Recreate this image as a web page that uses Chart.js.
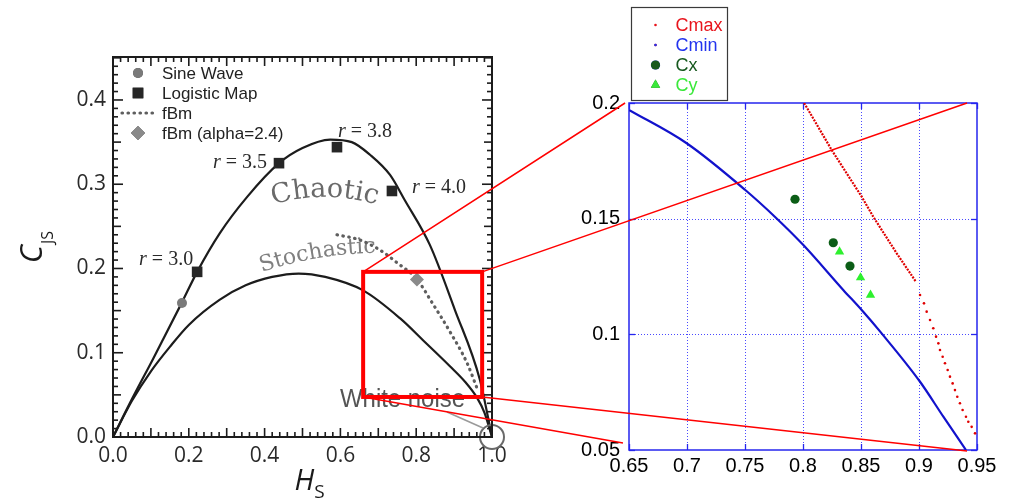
<!DOCTYPE html>
<html>
<head>
<meta charset="utf-8">
<script src="https://cdn.jsdelivr.net/npm/chart.js@4.4.1/dist/chart.umd.min.js"></script>
<style>
  html, body { margin: 0; padding: 0; background: #fff; }
  #wrap { position: relative; width: 1021px; height: 502px; overflow: hidden; background: #fff; }
  #left  { position: absolute; left: 0; top: 0; }
  #right { position: absolute; left: 515px; top: 0; }
  #links { position: absolute; left: 0; top: 0; pointer-events: none; }
</style>
</head>
<body>
<div id="wrap">
  <canvas id="left" width="515" height="502"></canvas>
  <canvas id="right" width="506" height="502"></canvas>
  <canvas id="links" width="1021" height="502"></canvas>
</div>
<script>
// ---------- complexity–entropy plane (H_S, C_JS) ----------
const upperHs  = [0, 0.05, 0.106, 0.18, 0.222, 0.282, 0.354, 0.438, 0.5, 0.573, 0.63, 0.678, 0.731, 0.77, 0.836, 0.902, 0.968, 1.0];
const upperCjs = [0, 0.045, 0.093, 0.158, 0.196, 0.242, 0.285, 0.325, 0.343, 0.353, 0.350, 0.335, 0.311, 0.281, 0.228, 0.151, 0.068, 0];

const lowerHs  = [0, 0.05, 0.1, 0.15, 0.2, 0.282, 0.35, 0.42, 0.49, 0.56, 0.66, 0.757, 0.82, 0.889, 0.93, 0.96, 0.98, 1.0];
const lowerCjs = [0, 0.043, 0.078, 0.107, 0.133, 0.163, 0.18, 0.19, 0.194, 0.19, 0.174, 0.141, 0.114, 0.084, 0.065, 0.047, 0.029, 0];

const fbmHs  = [0.591, 0.65, 0.704, 0.749, 0.802, 0.844, 0.889, 0.934, 0.963];
const fbmCjs = [0.240, 0.234, 0.222, 0.207, 0.187, 0.158, 0.125, 0.088, 0.055];

const sineHs  = [0.182];
const sineCjs = [0.159];

const logisticHs  = [0.222, 0.438, 0.591, 0.736];
const logisticCjs = [0.196, 0.325, 0.344, 0.292];
const logisticR   = ['3.0', '3.5', '3.8', '4.0'];

const fbmAlphaHs  = [0.802];
const fbmAlphaCjs = [0.187];

const noiseHs  = [1.0];
const noiseCjs = [0.0];

// window that is magnified on the right (H_S range, C_JS range)
const zoomHs  = [0.66, 0.974];
const zoomCjs = [0.0475, 0.196];

// ---------- magnified window ----------
const cmaxLineX = [0.801, 0.8247, 0.8506, 0.8606, 0.8808, 0.8974];
const cmaxLineY = [0.2000, 0.1797, 0.1595, 0.1508, 0.1350, 0.1227];
const cmaxDotX = [0.9009, 0.9043, 0.9066, 0.9095, 0.9123, 0.9147, 0.9167, 0.9181, 0.9204, 0.9224, 0.9247,
                  0.9267, 0.929, 0.931, 0.933, 0.9353, 0.9376, 0.9405, 0.9425, 0.9454, 0.9483];
const cmaxDotY = [0.117, 0.1134, 0.1098, 0.1062, 0.1026, 0.099, 0.0961, 0.0932, 0.0903, 0.0875, 0.0846,
                  0.0817, 0.0788, 0.0759, 0.073, 0.0702, 0.0673, 0.0644, 0.0622, 0.060, 0.0572];

const cminX = [0.65, 0.6997, 0.75, 0.7773, 0.8003, 0.8347, 0.8506, 0.8678, 0.9009, 0.921, 0.9405];
const cminY = [0.197, 0.1826, 0.1625, 0.1501, 0.1386, 0.1192, 0.1105, 0.1004, 0.0795, 0.0644, 0.050];

const cxX = [0.7931, 0.8261, 0.8405];
const cxY = [0.1584, 0.1396, 0.1295];

const cyX = [0.8315, 0.8496, 0.8582];
const cyY = [0.1357, 0.1245, 0.117];

// where the four corner guides land in the magnified panel (tl, tr, bl, br)
const linkEndX = [0.6466, 0.9414, 0.6448, 0.9414];
const linkEndY = [0.200, 0.200, 0.053, 0.0496];

const pts = (xs, ys) => xs.map((x, i) => ({ x, y: ys[i] }));

const INK = '#1c1c1c';
const SANS = '"Open Sans", "DejaVu Sans", sans-serif';
const LSANS = '"Liberation Sans", Arial, sans-serif';
const SERIF = '"DejaVu Serif", "Liberation Serif", serif';

function arcText(ctx, text, mx, my, R, mid) {
  // lay characters along a circle whose top passes through (mx, my)
  const cx = mx - R * Math.sin(mid), cy = my + R * Math.cos(mid);
  const total = ctx.measureText(text).width;
  let acc = -total / 2;
  ctx.textAlign = 'center';
  ctx.textBaseline = 'alphabetic';
  for (const ch of text) {
    const w = ctx.measureText(ch).width;
    const a = mid + (acc + w / 2) / R;
    ctx.save();
    ctx.translate(cx + R * Math.sin(a), cy - R * Math.cos(a));
    ctx.rotate(a);
    ctx.fillText(ch, 0, 0);
    ctx.restore();
    acc += w;
  }
}

// short solid tick marks pointing into the plot from every side
function innerTicks(ctx, a, xs, ys, color, w) {
  ctx.fillStyle = color;
  xs.forEach(([px, len]) => {
    ctx.fillRect(px - w / 2, a.bottom - len, w, len);
    ctx.fillRect(px - w / 2, a.top, w, len);
  });
  ys.forEach(([py, len]) => {
    ctx.fillRect(a.left, py - w / 2, len, w);
    ctx.fillRect(a.right - len, py - w / 2, len, w);
  });
}

// ---------- left panel decorations ----------
const leftDecor = {
  id: 'leftDecor',
  beforeDatasetsDraw(chart) {
    const { ctx, scales: { x, y } } = chart;
    ctx.save();
    ctx.fillStyle = '#6a6a6a';
    ctx.font = '27px ' + SERIF;
    arcText(ctx, 'Chaotic', x.getPixelForValue(0.559), y.getPixelForValue(0.285), 178, 0);
    ctx.fillStyle = '#808080';
    ctx.font = '22px ' + SERIF;
    arcText(ctx, 'Stochastic', x.getPixelForValue(0.541), y.getPixelForValue(0.2125), 370, -0.167);
    ctx.restore();
  },
  afterDatasetsDraw(chart) {
    const { ctx, chartArea: a, scales: { x, y } } = chart;
    ctx.save();
    ctx.setLineDash([]);

    // frame with inward major/minor ticks
    ctx.strokeStyle = INK;
    ctx.lineWidth = 2;
    ctx.strokeRect(a.left, a.top, a.right - a.left, a.bottom - a.top);
    const xt = [], yt = [];
    for (let i = 0; i <= 50; i++) xt.push([x.getPixelForValue(i * 0.02), i % 5 === 0 ? 9 : 5]);
    for (let i = 0; i <= 45; i++) yt.push([y.getPixelForValue(i * 0.01), i % 10 === 0 ? 10 : (i % 5 === 0 ? 8 : 5)]);
    innerTicks(ctx, a, xt, yt, INK, 1.6);

    // r = ... labels beside the logistic-map points
    const offs = [[-4, -7, 'right'], [-12, 5, 'right'], [1, -10, 'left'], [20, 2, 'left']];
    ctx.fillStyle = '#2a2a2a';
    ctx.textBaseline = 'alphabetic';
    logisticHs.forEach((h, i) => {
      const px = x.getPixelForValue(h) + offs[i][0];
      const py = y.getPixelForValue(logisticCjs[i]) + offs[i][1];
      const head = 'r', tail = ' = ' + logisticR[i];
      ctx.font = 'italic 20px "Liberation Serif", serif';
      const wh = ctx.measureText(head).width;
      ctx.font = '20px "Liberation Serif", serif';
      const wt = ctx.measureText(tail).width;
      const x0 = offs[i][2] === 'right' ? px - wh - wt : px;
      ctx.textAlign = 'left';
      ctx.font = 'italic 20px "Liberation Serif", serif';
      ctx.fillText(head, x0, py);
      ctx.font = '20px "Liberation Serif", serif';
      ctx.fillText(tail, x0 + wh, py);
    });

    // white-noise annotation
    const nx = x.getPixelForValue(noiseHs[0]), ny = y.getPixelForValue(noiseCjs[0]);
    ctx.strokeStyle = '#9a9a9a';
    ctx.lineWidth = 1.5;
    ctx.beginPath();
    ctx.moveTo(nx - 45, ny - 25);
    ctx.lineTo(nx - 9, ny - 9);
    ctx.stroke();
    ctx.fillStyle = '#555';
    ctx.font = '26px ' + LSANS;
    ctx.textAlign = 'left';
    ctx.fillText('White noise', nx - 152, ny - 30, 125);

    // legend
    const lx = a.left + 25, tx = a.left + 49;
    const rows = [a.top + 16, a.top + 36, a.top + 56, a.top + 76];
    const H = Chart.helpers;
    H.drawPoint(ctx, { pointStyle: 'circle', radius: 5, rotation: 0, borderWidth: 0 }, lx, rows[0]);
    ctx.fillStyle = '#7a7a7a'; ctx.fill();
    ctx.fillStyle = '#262626';
    H.drawPoint(ctx, { pointStyle: 'rect', radius: 7.5, rotation: 0, borderWidth: 0 }, lx, rows[1]);
    ctx.fill();
    ctx.strokeStyle = '#5e5e5e'; ctx.lineWidth = 3.2; ctx.lineCap = 'round'; ctx.setLineDash([0.5, 5.5]);
    ctx.beginPath(); ctx.moveTo(lx - 16, rows[2]); ctx.lineTo(lx + 15, rows[2]); ctx.stroke();
    ctx.setLineDash([]); ctx.lineCap = 'butt';
    H.drawPoint(ctx, { pointStyle: 'rectRot', radius: 7, rotation: 0, borderWidth: 0 }, lx, rows[3]);
    ctx.fillStyle = '#8a8a8a'; ctx.fill();
    ctx.fillStyle = '#222';
    ctx.font = '17px ' + LSANS;
    ctx.textBaseline = 'middle';
    ['Sine Wave', 'Logistic Map', 'fBm', 'fBm (alpha=2.4)'].forEach((t, i) => ctx.fillText(t, tx, rows[i] + 1));

    // axis titles
    ctx.fillStyle = '#1a1a1a';
    ctx.textBaseline = 'alphabetic';
    ctx.font = 'italic 31px ' + SANS;
    const wC = ctx.measureText('C').width;
    ctx.font = '16px ' + SANS;
    const wJS = ctx.measureText('JS').width;
    const yc = (a.top + a.bottom) / 2;
    ctx.save();
    ctx.translate(a.left - 71, yc + (wC + wJS + 1) / 2);
    ctx.rotate(-Math.PI / 2);
    ctx.font = 'italic 31px ' + SANS;
    ctx.fillText('C', 0, 0);
    ctx.font = '16px ' + SANS;
    ctx.fillText('JS', wC + 1, 11);
    ctx.restore();

    ctx.font = 'italic 29px ' + SANS;
    const wH = ctx.measureText('H').width;
    ctx.font = '19px ' + SANS;
    const wS = ctx.measureText('S').width;
    const xc = x.getPixelForValue(0.5) + 7;
    const x0 = xc - (wH + wS) / 2;
    ctx.font = 'italic 29px ' + SANS;
    ctx.fillText('H', x0, a.bottom + 53);
    ctx.font = '19px ' + SANS;
    ctx.fillText('S', x0 + wH, a.bottom + 61);
    ctx.restore();
  }
};

const leftChart = new Chart(document.getElementById('left'), {
  type: 'scatter',
  data: {
    datasets: [
      { label: 'Sine Wave', data: pts(sineHs, sineCjs), pointStyle: 'circle', pointRadius: 5,
        backgroundColor: '#7a7a7a', borderColor: '#7a7a7a', borderWidth: 0, order: 1 },
      { label: 'Logistic Map', data: pts(logisticHs, logisticCjs), pointStyle: 'rect', pointRadius: 7.5,
        backgroundColor: '#262626', borderColor: '#262626', borderWidth: 0, order: 1 },
      { label: 'fBm (alpha=2.4)', data: pts(fbmAlphaHs, fbmAlphaCjs), pointStyle: 'rectRot', pointRadius: 7,
        backgroundColor: '#8a8a8a', borderColor: '#8a8a8a', borderWidth: 0, order: 1 },
      { label: 'White noise', data: pts(noiseHs, noiseCjs), pointStyle: 'circle', pointRadius: 12,
        backgroundColor: 'rgba(0,0,0,0)', borderColor: '#6a6a6a', borderWidth: 2, clip: false, order: 1 },
      { label: 'fBm', data: pts(fbmHs, fbmCjs), showLine: true, pointRadius: 0, borderColor: '#5e5e5e',
        borderWidth: 3.2, borderDash: [0.5, 5.5], borderCapStyle: 'round', cubicInterpolationMode: 'monotone', order: 3 },
      { label: 'upper', data: pts(upperHs, upperCjs), showLine: true, pointRadius: 0, borderColor: INK,
        borderWidth: 2.2, cubicInterpolationMode: 'monotone', order: 2 },
      { label: 'lower', data: pts(lowerHs, lowerCjs), showLine: true, pointRadius: 0, borderColor: INK,
        borderWidth: 2.2, cubicInterpolationMode: 'monotone', order: 2 }
    ]
  },
  options: {
    responsive: false, animation: false, devicePixelRatio: 1,
    layout: { padding: { left: 0, top: 57, right: 23, bottom: 0 } },
    plugins: { legend: { display: false }, tooltip: { enabled: false } },
    scales: {
      x: {
        type: 'linear', min: 0, max: 1,
        afterFit(s) { s.height = 65; },
        grid: { display: false, drawTicks: false }, border: { display: false },
        ticks: { stepSize: 0.2, padding: 6, maxRotation: 0, color: '#2a2a2a',
                 font: { family: SANS, size: 21 }, callback: v => v.toFixed(1) }
      },
      y: {
        type: 'linear', min: 0, max: 0.451,
        afterFit(s) { s.width = 113; },
        grid: { display: false, drawTicks: false }, border: { display: false },
        ticks: { stepSize: 0.1, includeBounds: false, padding: 7, color: '#2a2a2a',
                 font: { family: SANS, size: 21 }, callback: v => v.toFixed(1) }
      }
    }
  },
  plugins: [leftDecor]
});

// ---------- right panel decorations ----------
const FRAME_BLUE = '#2626ee';
const rightDecor = {
  id: 'rightDecor',
  beforeDatasetsDraw(chart) {
    const { ctx, chartArea: a, scales: { x, y } } = chart;
    ctx.save();
    ctx.strokeStyle = '#4a4aff';
    ctx.lineWidth = 1;
    ctx.setLineDash([1, 2]);
    ctx.beginPath();
    x.ticks.forEach(t => {
      const px = Math.round(x.getPixelForValue(t.value)) + 0.5;
      if (px > a.left + 2 && px < a.right - 2) { ctx.moveTo(px, a.top); ctx.lineTo(px, a.bottom); }
    });
    y.ticks.forEach(t => {
      const py = Math.round(y.getPixelForValue(t.value)) + 0.5;
      if (py > a.top + 2 && py < a.bottom - 2) { ctx.moveTo(a.left, py); ctx.lineTo(a.right, py); }
    });
    ctx.stroke();
    ctx.setLineDash([]);
    innerTicks(ctx, a,
      x.ticks.map(t => [Math.round(x.getPixelForValue(t.value)) + 0.5, 6]),
      y.ticks.map(t => [Math.round(y.getPixelForValue(t.value)) + 0.5, 6]),
      FRAME_BLUE, 1.3);
    ctx.strokeStyle = FRAME_BLUE;
    ctx.lineWidth = 1.5;
    ctx.strokeRect(a.left, a.top, a.right - a.left, a.bottom - a.top);
    ctx.restore();
  },
  afterDraw(chart) {
    const { ctx, chartArea: a } = chart;
    const ds = chart.data.datasets;
    const items = [0, 2, 3, 4];
    const bx = a.left + 2.5, by = 7.5, bw = 96, bh = 93;
    ctx.save();
    ctx.setLineDash([]);
    ctx.fillStyle = '#fff';
    ctx.fillRect(bx, by, bw, bh);
    ctx.strokeStyle = '#3a3a3a';
    ctx.lineWidth = 1.2;
    ctx.strokeRect(bx, by, bw, bh);
    ctx.font = '18px ' + LSANS;
    ctx.textBaseline = 'middle';
    ctx.textAlign = 'left';
    items.forEach((di, i) => {
      const d = ds[di];
      const yy = by + 17.5 + i * 20;
      const r = di <= 2 ? 1.3 : d.pointRadius;
      Chart.helpers.drawPoint(ctx, { pointStyle: d.pointStyle || 'circle', radius: r, rotation: 0, borderWidth: 0 }, bx + 24, yy);
      ctx.fillStyle = d.legendColor;
      ctx.fill();
      ctx.fillStyle = d.legendColor;
      ctx.fillText(d.label, bx + 44, yy + 1);
    });
    ctx.restore();
  }
};

const rightChart = new Chart(document.getElementById('right'), {
  type: 'scatter',
  data: {
    datasets: [
      { label: 'Cmax', data: pts(cmaxLineX, cmaxLineY), showLine: true, pointRadius: 0,
        borderColor: '#e00000', borderWidth: 2.2, borderDash: [2, 1.2], legendColor: '#e8141c', order: 3 },
      { label: 'Cmax', data: pts(cmaxDotX, cmaxDotY), pointStyle: 'circle', pointRadius: 1.3,
        backgroundColor: '#e00000', borderColor: '#e00000', borderWidth: 0, legendColor: '#e8141c', order: 3 },
      { label: 'Cmin', data: pts(cminX, cminY), showLine: true, pointRadius: 0,
        borderColor: '#1212cc', borderWidth: 2.2, cubicInterpolationMode: 'monotone', legendColor: '#2233ee', order: 3 },
      { label: 'Cx', data: pts(cxX, cxY), pointStyle: 'circle', pointRadius: 4.6,
        backgroundColor: '#0b5d16', borderColor: '#0b5d16', borderWidth: 0, legendColor: '#16591e', order: 1 },
      { label: 'Cy', data: pts(cyX, cyY), pointStyle: 'triangle', pointRadius: 5.4,
        backgroundColor: '#2ef02e', borderColor: '#2ef02e', borderWidth: 0, legendColor: '#3ae83a', order: 1 }
    ]
  },
  options: {
    responsive: false, animation: false, devicePixelRatio: 1,
    layout: { padding: { left: 0, top: 103, right: 44, bottom: 0 } },
    plugins: { legend: { display: false }, tooltip: { enabled: false } },
    scales: {
      x: {
        type: 'linear', min: 0.65, max: 0.95,
        afterFit(s) { s.height = 52; },
        grid: { display: false, drawTicks: false }, border: { display: false },
        ticks: { stepSize: 0.05, padding: 4, maxRotation: 0, autoSkip: false, color: '#000',
                 font: { family: LSANS, size: 20 }, callback: v => String(+v.toFixed(2)) }
      },
      y: {
        type: 'linear', min: 0.05, max: 0.2,
        afterFit(s) { s.width = 114; },
        grid: { display: false, drawTicks: false }, border: { display: false },
        ticks: { stepSize: 0.05, padding: 9, color: '#000',
                 font: { family: LSANS, size: 20 }, callback: v => String(+v.toFixed(2)) }
      }
    }
  },
  plugins: [rightDecor]
});

// ---------- magnification box and guide lines ----------
function drawLinks() {
  const ctx = document.getElementById('links').getContext('2d');
  const lx = leftChart.scales.x, ly = leftChart.scales.y;
  const rx = rightChart.scales.x, ry = rightChart.scales.y;
  const offset = document.getElementById('right').offsetLeft;
  const x0 = lx.getPixelForValue(zoomHs[0]), x1 = lx.getPixelForValue(zoomHs[1]);
  const y0 = ly.getPixelForValue(zoomCjs[1]), y1 = ly.getPixelForValue(zoomCjs[0]);
  const corners = [[x0, y0], [x1, y0], [x0, y1], [x1, y1]];
  ctx.clearRect(0, 0, 1021, 502);
  ctx.strokeStyle = '#ff0000';
  ctx.lineWidth = 1.5;
  ctx.beginPath();
  corners.forEach((c, i) => {
    ctx.moveTo(c[0], c[1]);
    ctx.lineTo(offset + rx.getPixelForValue(linkEndX[i]), ry.getPixelForValue(linkEndY[i]));
  });
  ctx.stroke();
  ctx.lineWidth = 4;
  ctx.strokeRect(x0, y0, x1 - x0, y1 - y0);
}
drawLinks();
</script>
</body>
</html>
